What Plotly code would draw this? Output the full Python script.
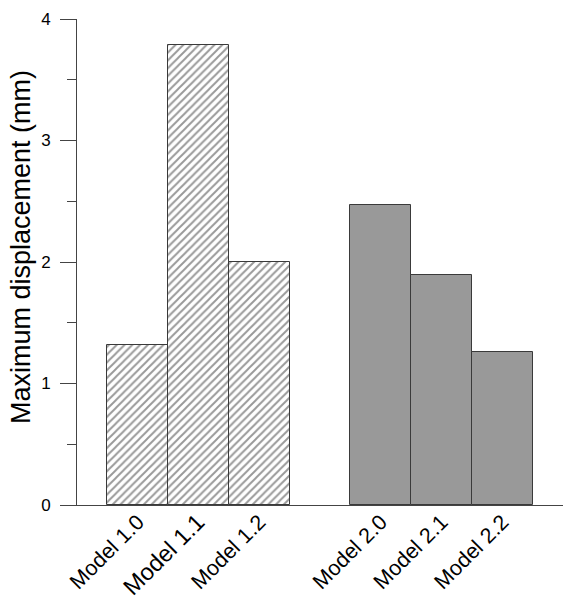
import plotly.graph_objects as go

# ---- data ----
group1_labels = ["Model 1.0", "Model 1.1", "Model 1.2"]
group1_values = [1.32, 3.79, 2.00]
group2_labels = ["Model 2.0", "Model 2.1", "Model 2.2"]
group2_values = [2.47, 1.89, 1.26]
spacer_label = [" "]
y_tick_values = [0, 1, 2, 3, 4]
y_title = "Maximum displacement (mm)"

category_order = group1_labels + spacer_label + group2_labels
tick_text = [
    ("<span style='font-size:23.5px'>%s</span>" % c) if c == "Model 1.1" else c
    for c in category_order
]

FONT = "Liberation Sans, Arial, sans-serif"
EDGE = "#3a3a3a"

fig = go.Figure()
fig.add_trace(go.Bar(
    x=group1_labels, y=group1_values,
    marker=dict(
        color="white",
        pattern=dict(shape="/", fgcolor="#333333", bgcolor="white", size=5.5, solidity=0.35),
        line=dict(color=EDGE, width=1),
    ),
    showlegend=False,
))
fig.add_trace(go.Bar(
    x=group2_labels, y=group2_values,
    marker=dict(color="#999999", line=dict(color=EDGE, width=1)),
    showlegend=False,
))

fig.update_layout(
    width=576, height=606,
    margin=dict(l=77, r=13, t=19, b=101, autoexpand=False),
    paper_bgcolor="white", plot_bgcolor="white",
    barmode="overlay", bargap=0,
    font=dict(family=FONT, color="#000000"),
    xaxis=dict(
        type="category",
        categoryorder="array", categoryarray=category_order,
        tickvals=category_order, ticktext=tick_text,
        range=[-1, 7],
        automargin=False,
        showline=True, linecolor="#444444", linewidth=1,
        ticks="", showgrid=False, zeroline=False,
        tickangle=-45, tickfont=dict(size=21.5, color="#000000", family=FONT),
        ticklabelstandoff=-5,
    ),
    yaxis=dict(
        range=[0, 4],
        tickvals=y_tick_values,
        automargin=False,
        showline=True, linecolor="#444444", linewidth=1,
        ticks="outside", ticklen=16, tickcolor="#444444", tickwidth=1,
        minor=dict(dtick=0.5, ticks="outside", ticklen=9, tickcolor="#444444", showgrid=False),
        showgrid=False, zeroline=False,
        tickfont=dict(size=17, color="#000000", family=FONT),
        ticklabelstandoff=6,
    ),
    annotations=[dict(
        text=y_title, textangle=-90,
        xref="paper", yref="paper",
        x=(21 - 77) / 486, y=(505 - 247) / 486,
        xanchor="center", yanchor="middle",
        showarrow=False,
        font=dict(size=27, color="#000000", family=FONT),
    )],
)

fig.write_html("out.html")
